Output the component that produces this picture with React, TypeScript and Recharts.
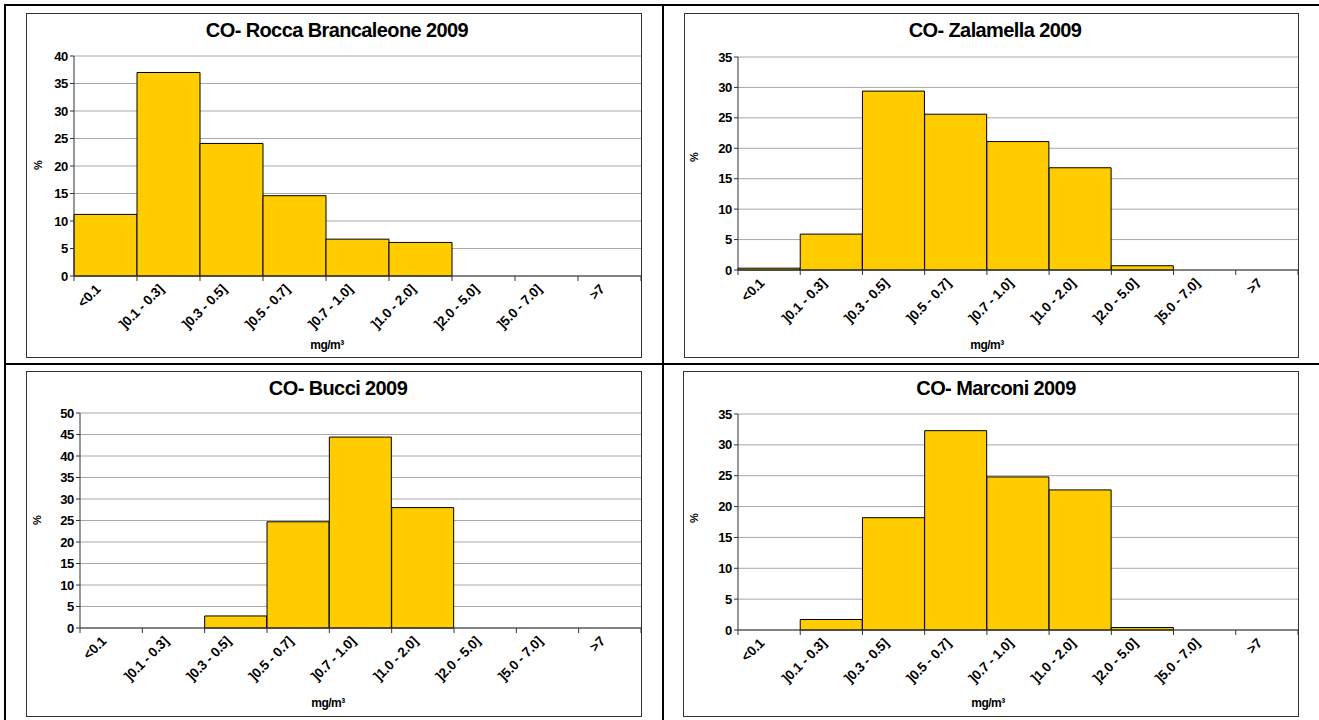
import React from 'react';
import { BarChart, Bar, XAxis, YAxis, CartesianGrid } from 'recharts';

const categories = [
  '<0.1',
  ']0.1 - 0.3]',
  ']0.3 - 0.5]',
  ']0.5 - 0.7]',
  ']0.7 - 1.0]',
  ']1.0 - 2.0]',
  ']2.0 - 5.0]',
  ']5.0 - 7.0]',
  '>7',
];

const roccaBrancaleone = [11.2, 37.0, 24.1, 14.6, 6.7, 6.1, 0, 0, 0];
const zalamella = [0.3, 5.9, 29.4, 25.6, 21.1, 16.8, 0.7, 0, 0];
const bucci = [0, 0, 2.8, 24.7, 44.4, 28.0, 0, 0, 0];
const marconi = [0, 1.7, 18.2, 32.3, 24.8, 22.7, 0.4, 0, 0];

const yTicks35 = [0, 5, 10, 15, 20, 25, 30, 35];
const yTicks40 = [0, 5, 10, 15, 20, 25, 30, 35, 40];
const yTicks50 = [0, 5, 10, 15, 20, 25, 30, 35, 40, 45, 50];

const titles = [
  'CO- Rocca Brancaleone 2009',
  'CO- Zalamella 2009',
  'CO- Bucci 2009',
  'CO- Marconi 2009',
];
const yAxisTitle = '%';
const xAxisTitle = 'mg/m³';

const FONT = '"Liberation Sans", Arial, sans-serif';

type Layout = {
  fx: number; fy: number; fw: number; fh: number;
  plotLeft: number; plotTop: number; plotBottom: number;
  pctX: number; pctY: number; unitX: number; unitY: number;
  titleX: number; titleY: number;
};

const layouts: Layout[] = [
  { fx: 26, fy: 13, fw: 615, fh: 344, plotLeft: 74, plotTop: 56, plotBottom: 276, pctX: 38, pctY: 165, unitX: 327, unitY: 345, titleX: 337, titleY: 30 },
  { fx: 684, fy: 13, fw: 614, fh: 344, plotLeft: 738, plotTop: 57, plotBottom: 270, pctX: 694, pctY: 157, unitX: 987, unitY: 345, titleX: 995, titleY: 30 },
  { fx: 26, fy: 371, fw: 615, fh: 345, plotLeft: 80, plotTop: 413, plotBottom: 628, pctX: 37, pctY: 520, unitX: 328, unitY: 703, titleX: 338, titleY: 388 },
  { fx: 683, fy: 371, fw: 615, fh: 345, plotLeft: 738, plotTop: 414, plotBottom: 630, pctX: 694, pctY: 518, unitX: 988, unitY: 703, titleX: 996, titleY: 388 },
];

function Panel({ layout, title, values, yMax, yTicks }: { layout: Layout; title: string; values: number[]; yMax: number; yTicks: number[] }) {
  const data = categories.map((c, i) => ({ cat: c, v: values[i] }));
  const yAxisW = layout.plotLeft - layout.fx;
  const marginTop = layout.plotTop - layout.fy;
  const xAxisH = layout.fy + layout.fh - layout.plotBottom;
  const plotW = layout.fx + layout.fw - layout.plotLeft;
  const bw = plotW / categories.length;

  const XTick = (props: any) => {
    const { x, y, payload, index } = props;
    const ax = x - 4;
    const ay = y + 14;
    return (
      <g>
        <line x1={x - bw / 2} x2={x - bw / 2} y1={y} y2={y + 5} stroke="#333" strokeWidth={1} />
        {index === categories.length - 1 && (
          <line x1={x + bw / 2} x2={x + bw / 2} y1={y} y2={y + 5} stroke="#333" strokeWidth={1} />
        )}
        <text
          x={ax}
          y={ay}
          textAnchor="end"
          transform={`rotate(-45 ${ax} ${ay})`}
          fontFamily={FONT}
          fontWeight="bold"
          fontSize={13.5}
          letterSpacing={-0.2}
          fill="#000"
        >
          {payload.value}
        </text>
      </g>
    );
  };

  return (
    <>
      <div style={{ position: 'absolute', left: layout.fx, top: layout.fy }}>
        <BarChart
          width={layout.fw + 1}
          height={layout.fh}
          data={data}
          margin={{ top: marginTop, right: 1, bottom: 0, left: 0 }}
          barCategoryGap={0}
          barGap={0}
        >
          <CartesianGrid yAxisId="l" vertical={false} stroke="#a8a8a8" strokeWidth={1} />
          <XAxis
            dataKey="cat"
            interval={0}
            height={xAxisH}
            tickSize={0}
            tickMargin={0}
            tickLine={false}
            axisLine={{ stroke: '#333', strokeWidth: 1 }}
            tick={XTick}
          />
          <YAxis
            yAxisId="l"
            width={yAxisW}
            domain={[0, yMax]}
            ticks={yTicks}
            interval={0}
            tickSize={4}
            tickMargin={2}
            axisLine={{ stroke: '#333', strokeWidth: 1 }}
            tickLine={{ stroke: '#333', strokeWidth: 1 }}
            tick={{ fontFamily: FONT, fontWeight: 'bold', fontSize: 13, fill: '#000', letterSpacing: -0.3 }}
          />
          <YAxis
            yAxisId="r"
            orientation="right"
            width={0}
            domain={[0, yMax]}
            tick={false}
            tickLine={false}
            axisLine={{ stroke: '#555', strokeWidth: 1.5 }}
          />
          <Bar yAxisId="l" dataKey="v" fill="#FFCC00" stroke="#000" strokeWidth={1} isAnimationActive={false} />
        </BarChart>
      </div>
      <div
        style={{
          position: 'absolute', left: layout.fx, top: layout.fy, width: layout.fw + 1, height: layout.fh + 1,
          boxSizing: 'border-box', border: '1px solid #333', pointerEvents: 'none',
        }}
      />
      <div
        style={{
          position: 'absolute', left: layout.titleX, top: layout.titleY, transform: 'translate(-50%, -50%)',
          fontFamily: FONT, fontWeight: 'bold', fontSize: 20, whiteSpace: 'nowrap', color: '#000', letterSpacing: -0.6,
        }}
      >
        {title}
      </div>
      <div
        style={{
          position: 'absolute', left: layout.pctX, top: layout.pctY, transform: 'translate(-50%, -50%) rotate(-90deg)',
          fontFamily: FONT, fontWeight: 'bold', fontSize: 11, whiteSpace: 'nowrap', color: '#000',
        }}
      >
        {yAxisTitle}
      </div>
      <div
        style={{
          position: 'absolute', left: layout.unitX, top: layout.unitY, transform: 'translate(-50%, -50%)',
          fontFamily: FONT, fontWeight: 'bold', fontSize: 12, whiteSpace: 'nowrap', color: '#000', letterSpacing: -0.5,
        }}
      >
        {xAxisTitle}
      </div>
    </>
  );
}

export default function App() {
  const line = '#000';
  return (
    <div style={{ position: 'absolute', left: 0, top: 0, width: 1319, height: 720, background: '#fff', overflow: 'hidden' }}>
      <div style={{ position: 'absolute', left: 4, top: 4, width: 1319, height: 2, background: line }} />
      <div style={{ position: 'absolute', left: 4, top: 4, width: 2, height: 720, background: line }} />
      <div style={{ position: 'absolute', left: 662, top: 4, width: 2, height: 720, background: line }} />
      <div style={{ position: 'absolute', left: 4, top: 363, width: 1319, height: 2, background: line }} />
      <Panel layout={layouts[0]} title={titles[0]} values={roccaBrancaleone} yMax={40} yTicks={yTicks40} />
      <Panel layout={layouts[1]} title={titles[1]} values={zalamella} yMax={35} yTicks={yTicks35} />
      <Panel layout={layouts[2]} title={titles[2]} values={bucci} yMax={50} yTicks={yTicks50} />
      <Panel layout={layouts[3]} title={titles[3]} values={marconi} yMax={35} yTicks={yTicks35} />
    </div>
  );
}
